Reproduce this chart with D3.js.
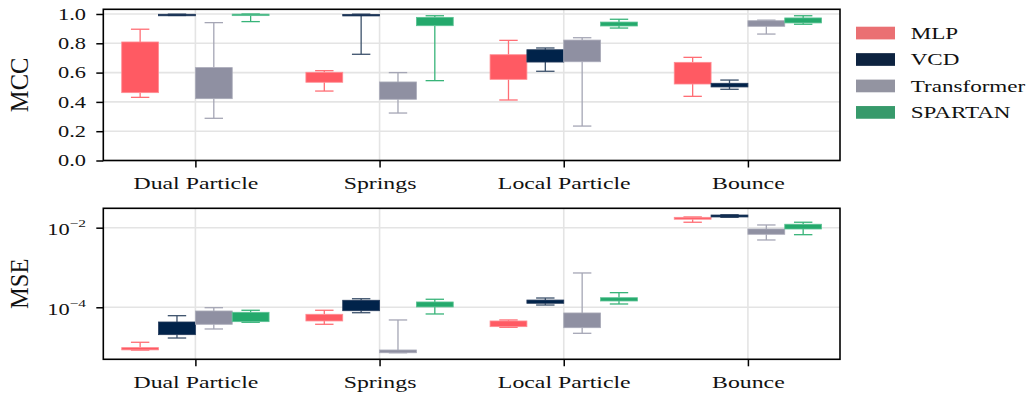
<!DOCTYPE html>
<html>
<head>
<meta charset="utf-8">
<script src="https://cdn.jsdelivr.net/npm/d3@7"></script>
<style>
  body { margin: 0; background: #fff; }
  text { font-family: "Liberation Serif", "Times New Roman", serif; fill: #111; }
</style>
</head>
<body>
<div class="chart_area"></div>
<script>
var categories = ["Dual Particle", "Springs", "Local Particle", "Bounce"];
var models = ["MLP", "VCD", "Transformer", "SPARTAN"];

// per category: [whisker low, q1, q3, whisker high]
var mcc_mlp = [[0.431, 0.463, 0.809, 0.896], [0.474, 0.534, 0.602, 0.613], [0.413, 0.554, 0.722, 0.820], [0.438, 0.522, 0.670, 0.704]];
var mcc_vcd = [[0.990, 0.993, 0.998, 0.999], [0.725, 0.990, 0.997, 0.999], [0.609, 0.672, 0.756, 0.768], [0.486, 0.502, 0.527, 0.549]];
var mcc_transformer = [[0.288, 0.422, 0.634, 0.941], [0.324, 0.418, 0.536, 0.600], [0.235, 0.674, 0.822, 0.838], [0.863, 0.916, 0.954, 0.958]];
var mcc_spartan = [[0.948, 0.990, 0.999, 1.000], [0.545, 0.920, 0.977, 0.988], [0.904, 0.918, 0.945, 0.964], [0.930, 0.939, 0.973, 0.988]];

var mse_mlp = [[8.4e-6, 8.5e-6, 9.7e-6, 1.32e-5], [3.74e-5, 4.53e-5, 6.67e-5, 8.41e-5], [3.14e-5, 3.26e-5, 4.53e-5, 4.8e-5], [1.37e-2, 1.63e-2, 1.82e-2, 1.86e-2]];
var mse_vcd = [[1.69e-5, 2.05e-5, 4.27e-5, 6.15e-5], [7.3e-5, 8.2e-5, 1.5e-4, 1.64e-4], [1.14e-4, 1.26e-4, 1.52e-4, 1.71e-4], [1.82e-2, 1.86e-2, 2.08e-2, 2.12e-2]];
var mse_transformer = [[2.85e-5, 3.74e-5, 8.07e-5, 9.77e-5], [7.2e-6, 7.2e-6, 8.45e-6, 4.8e-5], [2.22e-5, 3.07e-5, 7.2e-5, 7.28e-4], [4.91e-3, 6.83e-3, 9.27e-3, 1.17e-2]];
var mse_spartan = [[4.2e-5, 4.35e-5, 7.48e-5, 8.41e-5], [6.79e-5, 1.02e-4, 1.36e-4, 1.59e-4], [1.21e-4, 1.44e-4, 1.74e-4, 2.33e-4], [6.67e-3, 9.27e-3, 1.22e-2, 1.37e-2]];

var mcc_ticks = [0, 0.2, 0.4, 0.6, 0.8, 1.0];
var mse_ticks = [1e-2, 1e-4];

var fill_colors = ["#ff5a63", "#01234a", "#8f90a2", "#24a96c"];
var edge_colors = ["#ff8d93", "#23395a", "#a9aab8", "#5cc294"];
var whisker_colors = ["#ff6e75", "#3c516b", "#a5a6b5", "#38b479"];
var legend_colors = ["#ea7073", "#0d2340", "#9394a1", "#379a6b"];

var SX = 1.4; // horizontal stretch of the labels

var width = 1026, height = 394;
var left = 103.3, right = 840;

var svg = d3.select(".chart_area")
    .append("svg")
    .attr("width", width)
    .attr("height", height);

var x = d3.scaleLinear()
    .domain([-0.5, 3.5])
    .range([left, right]);

var offsets = [-0.3, -0.1, 0.1, 0.3];
var box_w = 0.2;

var y_mcc = d3.scaleLinear()
    .domain([0, 1.032])
    .range([160.5, 9.3]);

var y_mse = d3.scaleLog()
    .domain([Math.pow(10, -5.307), Math.pow(10, -1.513)])
    .range([359.3, 208.3]);

function draw_panel(y, series, ticks, label, is_log) {
    var g = svg.append("g");
    var top = y.range()[1], bottom = y.range()[0];

    // grid
    g.selectAll(".hgrid")
        .data(ticks)
        .enter()
        .append("line")
        .attr("x1", left).attr("x2", right)
        .attr("y1", function (d) { return y(d); })
        .attr("y2", function (d) { return y(d); })
        .style("stroke", "#e4e4e4")
        .style("stroke-width", 1.6);

    g.selectAll(".vgrid")
        .data([0, 1, 2, 3])
        .enter()
        .append("line")
        .attr("x1", function (d) { return x(d); })
        .attr("x2", function (d) { return x(d); })
        .attr("y1", top).attr("y2", bottom)
        .style("stroke", "#e4e4e4")
        .style("stroke-width", 1.6);

    // boxes
    for (var m = 0; m < models.length; m++) {
        var mg = g.append("g").attr("class", "model_" + m);
        var rows = series[m].map(function (d, i) { return { c: i, v: d }; });

        var cx = function (d) { return x(d.c + offsets[m]); };
        var half = (x(box_w) - x(0)) / 2;

        mg.selectAll(".whisk_lo")
            .data(rows).enter().append("line")
            .attr("x1", cx).attr("x2", cx)
            .attr("y1", function (d) { return y(d.v[0]); })
            .attr("y2", function (d) { return y(d.v[1]); })
            .style("stroke", whisker_colors[m]).style("stroke-width", 1.3);

        mg.selectAll(".whisk_hi")
            .data(rows).enter().append("line")
            .attr("x1", cx).attr("x2", cx)
            .attr("y1", function (d) { return y(d.v[2]); })
            .attr("y2", function (d) { return y(d.v[3]); })
            .style("stroke", whisker_colors[m]).style("stroke-width", 1.3);

        [0, 3].forEach(function (k) {
            mg.selectAll(".cap" + k)
                .data(rows).enter().append("line")
                .attr("x1", function (d) { return cx(d) - half / 2; })
                .attr("x2", function (d) { return cx(d) + half / 2; })
                .attr("y1", function (d) { return y(d.v[k]); })
                .attr("y2", function (d) { return y(d.v[k]); })
                .style("stroke", whisker_colors[m]).style("stroke-width", 1.3);
        });

        mg.selectAll("rect")
            .data(rows).enter().append("rect")
            .attr("x", function (d) { return cx(d) - half; })
            .attr("width", half * 2)
            .attr("y", function (d) { return y(d.v[2]); })
            .attr("height", function (d) { return Math.max(1.5, y(d.v[1]) - y(d.v[2])); })
            .attr("fill", fill_colors[m])
            .style("stroke", edge_colors[m])
            .style("stroke-width", 0.8);
    }

    // axes
    var x_axis = g.append("g")
        .attr("transform", "translate(0," + bottom + ")")
        .call(d3.axisBottom(x).tickValues([0, 1, 2, 3])
            .tickFormat(function (d) { return categories[d]; })
            .tickSize(7).tickSizeOuter(0).tickPadding(9.5));

    x_axis.select(".domain").remove();
    x_axis.selectAll("line").style("stroke", "#000").style("stroke-width", 1.5);
    x_axis.selectAll("text")
        .attr("transform", "scale(" + SX + ",1)")
        .style("font-size", "17px")
        .style("fill", "#111");

    var y_axis = g.append("g")
        .attr("transform", "translate(" + left + ",0)")
        .call(d3.axisLeft(y).tickValues(ticks).tickSize(7).tickSizeOuter(0));

    y_axis.select(".domain").remove();
    y_axis.selectAll("line").style("stroke", "#000").style("stroke-width", 1.5);
    y_axis.selectAll("text")
        .attr("x", -17.3 / SX)
        .attr("transform", "scale(" + SX + ",1)")
        .style("font-size", "16px")
        .style("fill", "#111");

    if (is_log) {
        y_axis.selectAll("text").each(function (d) {
            var t = d3.select(this).text("").attr("dy", "7.3px");
            t.append("tspan").text("10");
            t.append("tspan")
                .attr("dy", "-8px")
                .style("font-size", "11px")
                .text("\u2212" + Math.round(-Math.log10(d)));
        });
    } else {
        y_axis.selectAll("text").text(function (d) { return d3.format(".1f")(d); });
    }

    // frame
    g.append("rect")
        .attr("x", left).attr("y", top)
        .attr("width", right - left).attr("height", bottom - top)
        .attr("fill", "none")
        .style("stroke", "#000")
        .style("stroke-width", 1.6);

    g.append("text")
        .attr("transform", "translate(28," + (top + bottom) / 2 + ") rotate(-90)")
        .attr("text-anchor", "middle")
        .style("font-size", "24.5px")
        .text(label);
}

draw_panel(y_mcc, [mcc_mlp, mcc_vcd, mcc_transformer, mcc_spartan], mcc_ticks, "MCC", false);
draw_panel(y_mse, [mse_mlp, mse_vcd, mse_transformer, mse_spartan], mse_ticks, "MSE", true);

// legend
var legend = svg.append("g").attr("class", "legend");
var leg = legend.selectAll("g")
    .data(models)
    .enter()
    .append("g")
    .attr("transform", function (d, i) { return "translate(856," + (33 + i * 26.45) + ")"; });

leg.append("rect")
    .attr("x", 0).attr("y", -6.3)
    .attr("width", 39).attr("height", 12.7)
    .attr("fill", function (d, i) { return legend_colors[i]; });

leg.append("text")
    .attr("x", 54.7 / SX)
    .attr("y", 6)
    .attr("transform", "scale(" + SX + ",1)")
    .style("font-size", "16.5px")
    .text(function (d) { return d; });
</script>
</body>
</html>
